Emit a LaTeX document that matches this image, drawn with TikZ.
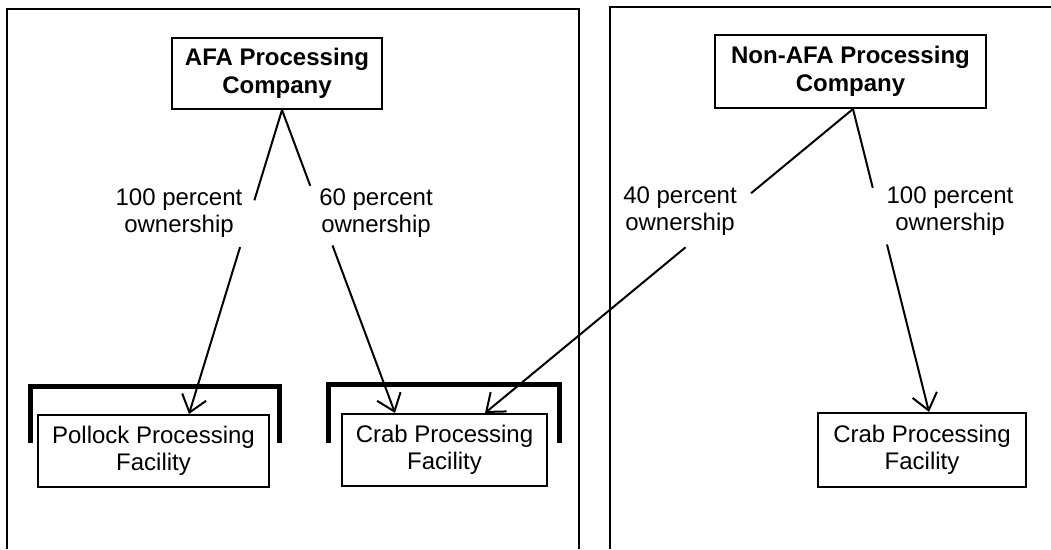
\documentclass[tikz,border=0pt]{standalone}
\usepackage{fontspec}
\setmainfont{Liberation Sans}
\usetikzlibrary{arrows.meta,calc}

\begin{document}
\begin{tikzpicture}[x=1pt,y=-1pt,
  txt/.style={font=\fontsize{24}{27.5}\selectfont, align=center, inner sep=0pt},
  firm/.style={txt, draw, line width=2pt, font=\bfseries\fontsize{24}{27.5}\selectfont},
  plant/.style={txt, draw, line width=2pt},
  share/.style={txt},
  link/.style={line width=2pt},
  own/.style={link, -{Straight Barb[length=16pt,width=25pt,line width=2pt]}},
  panel/.style={line width=1.6pt},
  bracketline/.style={line width=5pt, line join=miter}
]
\useasboundingbox (0,0) rectangle (1051,549);

% two panels, open at the bottom
\draw[panel] (7,549) -- (7,9) -- (579,9) -- (579,549);
\draw[panel] (610,549) -- (610,7) -- (1051,7);

% companies
\node[firm, minimum width=210pt, minimum height=71pt] (afa) at (277,73.5) {AFA Processing\\Company};
\node[firm, minimum width=271pt, minimum height=73pt] (nonafa) at (850.5,71.5) {Non-AFA Processing\\Company};

% facilities
\node[plant, minimum width=231pt, minimum height=72pt] (pollock) at (153.5,451) {Pollock Processing\\Facility};
\node[plant, minimum width=205pt, minimum height=72pt] (crabA) at (444.5,450) {Crab Processing\\Facility};
\node[plant, minimum width=208pt, minimum height=74pt] (crabB) at (922,450) {Crab Processing\\Facility};

% heavy brackets above the AFA facilities
\draw[bracketline] (30,443) -- (30,386) -- (279,386) -- (279,443);
\draw[bracketline] (328,443) -- (328,384) -- (559,384) -- (559,443);

% ownership shares
\node[share] (s100a) at (179,213) {100 percent\\ownership};
\node[share] (s60) at (376,213) {60 percent\\ownership};
\node[share] (s40) at (680,211) {40 percent\\ownership};
\node[share] (s100b) at (950,211) {100 percent\\ownership};

% end points on the boxes
\coordinate (afaTop) at ([xshift=5pt]afa.south);
\coordinate (nonTop) at ([xshift=2.5pt]nonafa.south);
\coordinate (pollTip) at ([xshift=35.5pt]pollock.north);
\coordinate (crabTipL) at ([xshift=-49.5pt]crabA.north);
\coordinate (crabTipR) at ([xshift=40.5pt]crabA.north);
\coordinate (crabTipB) at ([xshift=7pt]crabB.north);

% connectors, broken where they pass the share labels
\draw[link] (afaTop) -- ($(afaTop)!0.297!(pollTip)$);
\draw[own] ($(afaTop)!0.451!(pollTip)$) -- (pollTip);

\draw[link] (afaTop) -- ($(afaTop)!0.25!(crabTipL)$);
\draw[own] ($(afaTop)!0.447!(crabTipL)$) -- (crabTipL);

\draw[link] (nonTop) -- ($(nonTop)!0.277!(crabTipR)$);
\draw[own] ($(nonTop)!0.455!(crabTipR)$) -- (crabTipR);

\draw[link] (nonTop) -- ($(nonTop)!0.26!(crabTipB)$);
\draw[own] ($(nonTop)!0.447!(crabTipB)$) -- (crabTipB);
\end{tikzpicture}
\end{document}
